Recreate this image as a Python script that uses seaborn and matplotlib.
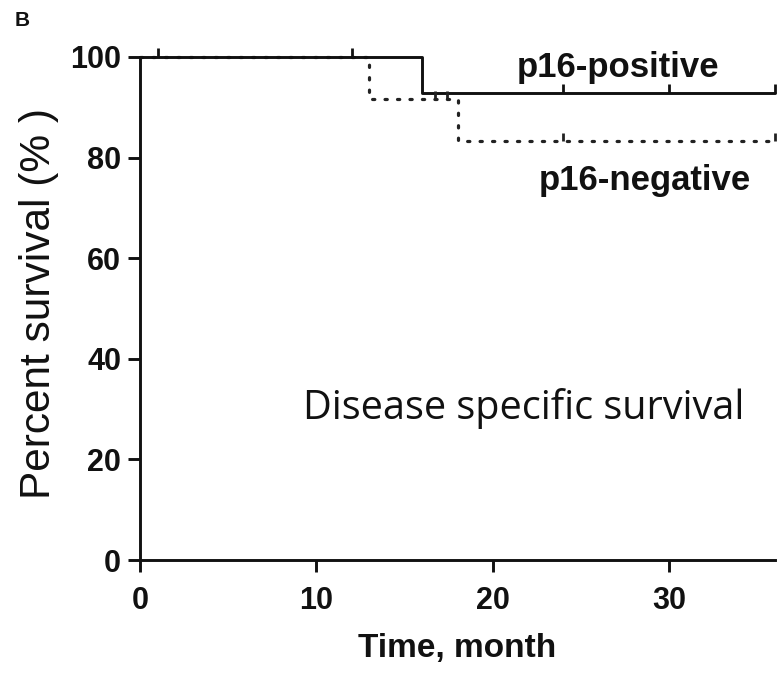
import numpy as np
import pandas as pd
import matplotlib
matplotlib.use("Agg")
import matplotlib.pyplot as plt
from matplotlib.path import Path
import seaborn as sns

# Data
pos_time = [0, 16, 36]
pos_surv = [100, 92.9, 92.9]
neg_time = [0, 13, 18, 36]
neg_surv = [100, 91.7, 83.3, 83.3]
pos_censor_t = [1, 12, 24, 30, 36]
pos_censor_s = [100, 100, 92.9, 92.9, 92.9]
neg_censor_t = [16.7, 17.4, 24, 36]
neg_censor_s = [91.7, 91.7, 83.3, 83.3]
x_ticks = [0, 10, 20, 30]
y_ticks = [0, 20, 40, 60, 80, 100]

sns.set_theme(style="ticks")
plt.rcParams['font.family'] = ['Liberation Sans', 'DejaVu Sans']

fig = plt.figure(figsize=(7.8, 6.77), dpi=100)
ax = fig.add_axes([140/780, 1-560/677, 635/780, 503/677])

pos_df = pd.DataFrame({"t": pos_time, "s": pos_surv})
neg_df = pd.DataFrame({"t": neg_time, "s": neg_surv})

sns.lineplot(data=neg_df, x="t", y="s", ax=ax, drawstyle="steps-post",
             color="#222222", lw=2.3, linestyle=(0, (0.7, 3.2)),
             dash_capstyle="round", clip_on=False)
sns.lineplot(data=pos_df, x="t", y="s", ax=ax, drawstyle="steps-post",
             color="#111111", lw=2.1, clip_on=False)

tick_marker = Path([(0, 0), (0, 1)])
ax.plot(pos_censor_t, pos_censor_s, linestyle="none", marker=tick_marker,
        markersize=13, markeredgewidth=2.0, color="#111111", clip_on=False)
ax.plot(neg_censor_t, neg_censor_s, linestyle="none", marker=tick_marker,
        markersize=11, markeredgewidth=2.0, color="#222222", clip_on=False)

ax.set_xlim(0, 36)
ax.set_ylim(0, 100)
ax.set_xticks(x_ticks)
ax.set_yticks(y_ticks)
ax.tick_params(axis="both", length=8.6, width=2.1, labelsize=22, color="#111111",
               labelcolor="#111111")
ax.tick_params(axis="x", pad=10)
ax.tick_params(axis="y", pad=5)
for lab in ax.get_xticklabels() + ax.get_yticklabels():
    lab.set_fontweight("bold")
for sp in ["left", "bottom"]:
    ax.spines[sp].set_linewidth(2.1)
    ax.spines[sp].set_color("#111111")
sns.despine(ax=ax)

ax.set_xlabel("Time, month", fontsize=24, fontweight="bold", color="#111111")
ax.xaxis.set_label_coords(0.499, -0.145)
ax.set_ylabel("Percent survival (% )", fontsize=30.5, color="#111111")
ax.yaxis.set_label_coords(-0.128, 0.509)

ax.text(27.1, 96.0, "p16-positive", fontsize=25, fontweight="bold", ha="center",
        va="baseline", color="#111111")
ax.text(28.6, 73.6, "p16-negative", fontsize=25, fontweight="bold", ha="center",
        va="baseline", color="#111111")
ax.text(21.77, 28.0, "Disease specific survival", fontsize=28.5, ha="center",
        va="baseline", color="#111111", family=["Open Sans", "DejaVu Sans"])

fig.text(15/780, 1-21/677, "B", fontsize=15, fontweight="bold", ha="left",
         va="center", color="#111111")

fig.savefig("out.png", dpi=100)
